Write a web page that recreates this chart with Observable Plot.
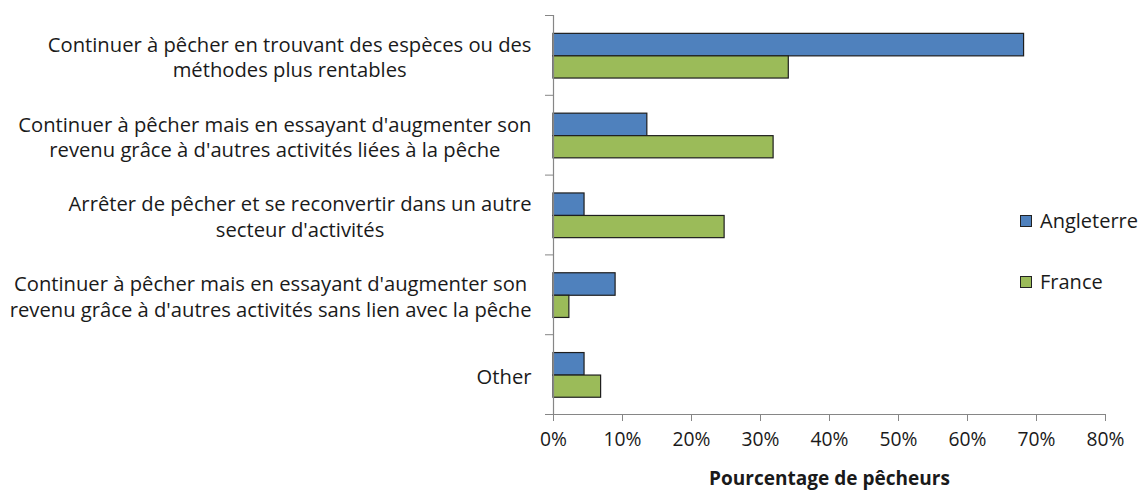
<!DOCTYPE html>
<html><head><meta charset="utf-8">
<script src="https://cdn.jsdelivr.net/npm/d3@7"></script>
<script src="https://cdn.jsdelivr.net/npm/@observablehq/plot@0.6"></script>
<style>
body{margin:0;background:#fff}
#wrap{position:relative;width:1143px;height:493px;font-family:"Open Sans",sans-serif}
.leg{position:absolute;left:1020px;color:#1a1a1a;display:flex;align-items:center;white-space:nowrap}
.sw{width:10px;height:10px;border:1px solid #222;margin-right:8px}
</style></head><body><div id="wrap"></div><script>
const categories = [
  "Continuer à pêcher en trouvant des espèces ou des\nméthodes plus rentables",
  "Continuer à pêcher mais en essayant d'augmenter son\nrevenu grâce à d'autres activités liées à la pêche",
  "Arrêter de pêcher et se reconvertir dans un autre\nsecteur d'activités",
  "Continuer à pêcher mais en essayant d'augmenter son\nrevenu grâce à d'autres activités sans lien avec la pêche",
  "Other"
];
const angleterre = [68.2, 13.6, 4.5, 9.0, 4.5];
const france = [34.1, 31.9, 24.8, 2.3, 6.9];
const seriesNames = ["Angleterre", "France"];
const seriesColors = ["#4F81BD", "#9BBB59"];
const xTicks = [0, 10, 20, 30, 40, 50, 60, 70, 80];
const xTitle = "Pourcentage de pêcheurs";

const rows = [];
categories.forEach((c, i) => {
  rows.push({cat: c, i, s: 0, value: angleterre[i]});
  rows.push({cat: c, i, s: 1, value: france[i]});
});

const FONT = "Open Sans";
const ctx = document.createElement("canvas").getContext("2d");
const measure = (t, size, weight = "normal") => {
  ctx.font = `${weight} ${size}px "${FONT}"`;
  return Math.max(...t.split("\n").map(l => ctx.measureText(l).width));
};
// fit font sizes to the reference's text widths
const labelSize = 18 * 522 / measure("revenu grâce à d'autres activités sans lien avec la pêche", 18);
const tickSize = 18 * 38 / measure("10%", 18);
const titleSize = 18 * 241 / measure(xTitle, 18, "bold");
const legSize = 18 * 98 / measure("Angleterre", 18);

const labelMarks = categories.map((c, i) => Plot.text([{t: c, y: i + 0.5}], {
  x: () => 0, y: "y", text: "t", textAnchor: "middle", lineHeight: 25.5 / labelSize,
  dx: -(22 + measure(c, labelSize) / 2), dy: 1, fontSize: labelSize, fill: "#1a1a1a"
}));

const chart = Plot.plot({
  width: 1143, height: 493,
  marginLeft: 553, marginRight: 38, marginTop: 15, marginBottom: 79,
  style: {fontFamily: FONT, background: "#fff"},
  x: {domain: [0, 80]},
  y: {domain: [5, 0]},
  marks: [
    Plot.rectX(rows, {
      x1: () => 0, x2: "value",
      y1: d => d.i + (d.s === 0 ? 0.23 : 0.512),
      y2: d => d.i + (d.s === 0 ? 0.512 : 0.79),
      fill: d => seriesColors[d.s], stroke: "#1e1e1e", strokeWidth: 1.2
    }),
    Plot.ruleX([0], {y1: 0, y2: 5, stroke: "#868686", strokeWidth: 1.2}),
    Plot.ruleY([5], {x1: 0, x2: 80, stroke: "#868686", strokeWidth: 1.2}),
    Plot.axisY({ticks: [0, 1, 2, 3, 4, 5], tickSize: 8, tickFormat: () => "", stroke: "#868686", label: null}),
    Plot.axisX({ticks: xTicks, tickSize: 7, tickPadding: 11, tickFormat: d => d + "%", fontSize: tickSize, fill: "#1a1a1a", stroke: "#868686", label: null}),
    Plot.text([xTitle], {frameAnchor: "bottom", dy: 70, fontWeight: "bold", fontSize: titleSize, fill: "#1a1a1a"}),
    ...labelMarks
  ]
});
const wrap = document.getElementById("wrap");
wrap.appendChild(chart);
[[seriesNames[0], seriesColors[0], 207], [seriesNames[1], seriesColors[1], 268]].forEach(([n, c, top]) => {
  const d = document.createElement("div");
  d.className = "leg"; d.style.top = top + "px"; d.style.fontSize = legSize + "px";
  d.innerHTML = `<span class="sw" style="background:${c}"></span><span>${n}</span>`;
  wrap.appendChild(d);
});
</script></body></html>
